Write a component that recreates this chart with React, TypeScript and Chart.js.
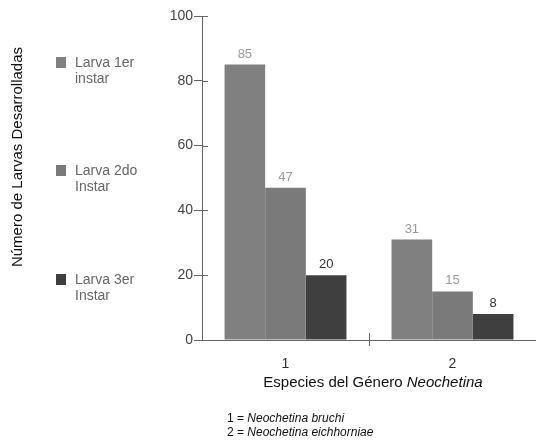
import React, { useEffect, useRef } from "react";
import { Chart, registerables } from "chart.js";

Chart.register(...registerables);

const categories = ["1", "2"];
const seriesNames = [["Larva 1er", "instar"], ["Larva 2do", "Instar"], ["Larva 3er", "Instar"]];
const larva1 = [85, 31];
const larva2 = [47, 15];
const larva3 = [20, 8];
const barColors = ["#808080", "#7a7a7a", "#3f3f3f"];
const labelColors = ["#9a9a9a", "#9a9a9a", "#333333"];
const yTitle = "Número de Larvas Desarrolladas";
const footnotes = [["1 = ", "Neochetina bruchi"], ["2 = ", "Neochetina eichhorniae"]];

const FONT = "'Liberation Sans', Arial, sans-serif";

const extrasPlugin = {
  id: "extras",
  afterDraw(chart: any) {
    const ctx = chart.ctx;
    const xs = chart.scales.x;
    const ys = chart.scales.y;
    const area = chart.chartArea;
    ctx.save();
    ctx.strokeStyle = "#666";
    ctx.lineWidth = 1;
    ys.ticks.forEach((t: any) => {
      const y = Math.round(ys.getPixelForValue(t.value)) + 0.5;
      ctx.beginPath();
      ctx.moveTo(area.left, y);
      ctx.lineTo(area.left + 6, y);
      ctx.stroke();
    });
    const mid = Math.round((xs.getPixelForValue(0) + xs.getPixelForValue(1)) / 2) + 0.5;
    ctx.beginPath();
    ctx.moveTo(mid, area.bottom - 7);
    ctx.lineTo(mid, area.bottom + 6);
    ctx.stroke();

    ctx.font = "13px " + FONT;
    ctx.textAlign = "center";
    ctx.textBaseline = "alphabetic";
    chart.data.datasets.forEach((ds: any, i: number) => {
      const meta = chart.getDatasetMeta(i);
      meta.data.forEach((bar: any, j: number) => {
        ctx.fillStyle = labelColors[i];
        ctx.fillText(String(ds.data[j]), bar.x, bar.y - 7);
      });
    });

    ctx.save();
    ctx.translate(18, 157);
    ctx.rotate(-Math.PI / 2);
    ctx.font = "15px " + FONT;
    ctx.fillStyle = "#111";
    ctx.textAlign = "center";
    ctx.textBaseline = "middle";
    ctx.fillText(yTitle, 0, 0);
    ctx.restore();

    const legendY = [57, 165, 274];
    chart.data.datasets.forEach((ds: any, i: number) => {
      const y0 = legendY[i];
      ctx.fillStyle = barColors[i];
      ctx.fillRect(56, y0, 10, 11);
      ctx.fillStyle = "#666";
      ctx.font = "14px " + FONT;
      ctx.textAlign = "left";
      ctx.textBaseline = "middle";
      ctx.fillText(seriesNames[i][0], 75, y0 + 6);
      ctx.fillText(seriesNames[i][1], 75, y0 + 22);
    });

    ctx.textBaseline = "middle";
    ctx.fillStyle = "#111";
    const p1 = "Especies del Género ";
    const p2 = "Neochetina";
    ctx.font = "15px " + FONT;
    const w1 = ctx.measureText(p1).width;
    ctx.font = "italic 15px " + FONT;
    const w2 = ctx.measureText(p2).width;
    const x = 373 - (w1 + w2) / 2;
    ctx.textAlign = "left";
    ctx.font = "15px " + FONT;
    ctx.fillText(p1, x, 383);
    ctx.font = "italic 15px " + FONT;
    ctx.fillText(p2, x + w1, 383);

    footnotes.forEach((f, i) => {
      const y = 419 + i * 14;
      ctx.font = "12px " + FONT;
      ctx.fillText(f[0], 227, y);
      const w = ctx.measureText(f[0]).width;
      ctx.font = "italic 12px " + FONT;
      ctx.fillText(f[1], 227 + w, y);
    });
    ctx.restore();
  },
};

export default function App() {
  const ref = useRef<HTMLCanvasElement>(null);
  useEffect(() => {
    document.body.style.margin = "0";
    const chart = new Chart(ref.current as HTMLCanvasElement, {
      type: "bar",
      data: {
        labels: categories,
        datasets: [
          { label: seriesNames[0].join(" "), data: larva1, backgroundColor: barColors[0] },
          { label: seriesNames[1].join(" "), data: larva2, backgroundColor: barColors[1] },
          { label: seriesNames[2].join(" "), data: larva3, backgroundColor: barColors[2] },
        ],
      },
      options: {
        animation: false,
        responsive: false,
        maintainAspectRatio: false,
        layout: { padding: { left: 162, right: 0, top: 16, bottom: 72 } },
        datasets: { bar: { barPercentage: 1, categoryPercentage: 0.73 } },
        plugins: { legend: { display: false }, tooltip: { enabled: false } },
        scales: {
          x: {
            grid: { display: false },
            border: { display: true, color: "#666" },
            ticks: { color: "#333", font: { family: FONT, size: 14 }, padding: 8 },
            afterFit: (s: any) => { s.height = 30; },
          },
          y: {
            min: 0,
            max: 100,
            grid: { display: true, drawOnChartArea: false, drawTicks: true, tickLength: 8, color: "#666" },
            border: { display: true, color: "#666" },
            ticks: { stepSize: 20, color: "#444", font: { family: FONT, size: 14 }, padding: 1 },
            afterFit: (s: any) => { s.width = 40; },
          },
        },
      },
      plugins: [extrasPlugin],
    });
    return () => chart.destroy();
  }, []);
  return (
    <div style={{ position: "fixed", left: 0, top: 0, width: 536, height: 442, background: "#fff" }}>
      <canvas ref={ref} width={536} height={442} style={{ width: 536, height: 442 }} />
    </div>
  );
}
